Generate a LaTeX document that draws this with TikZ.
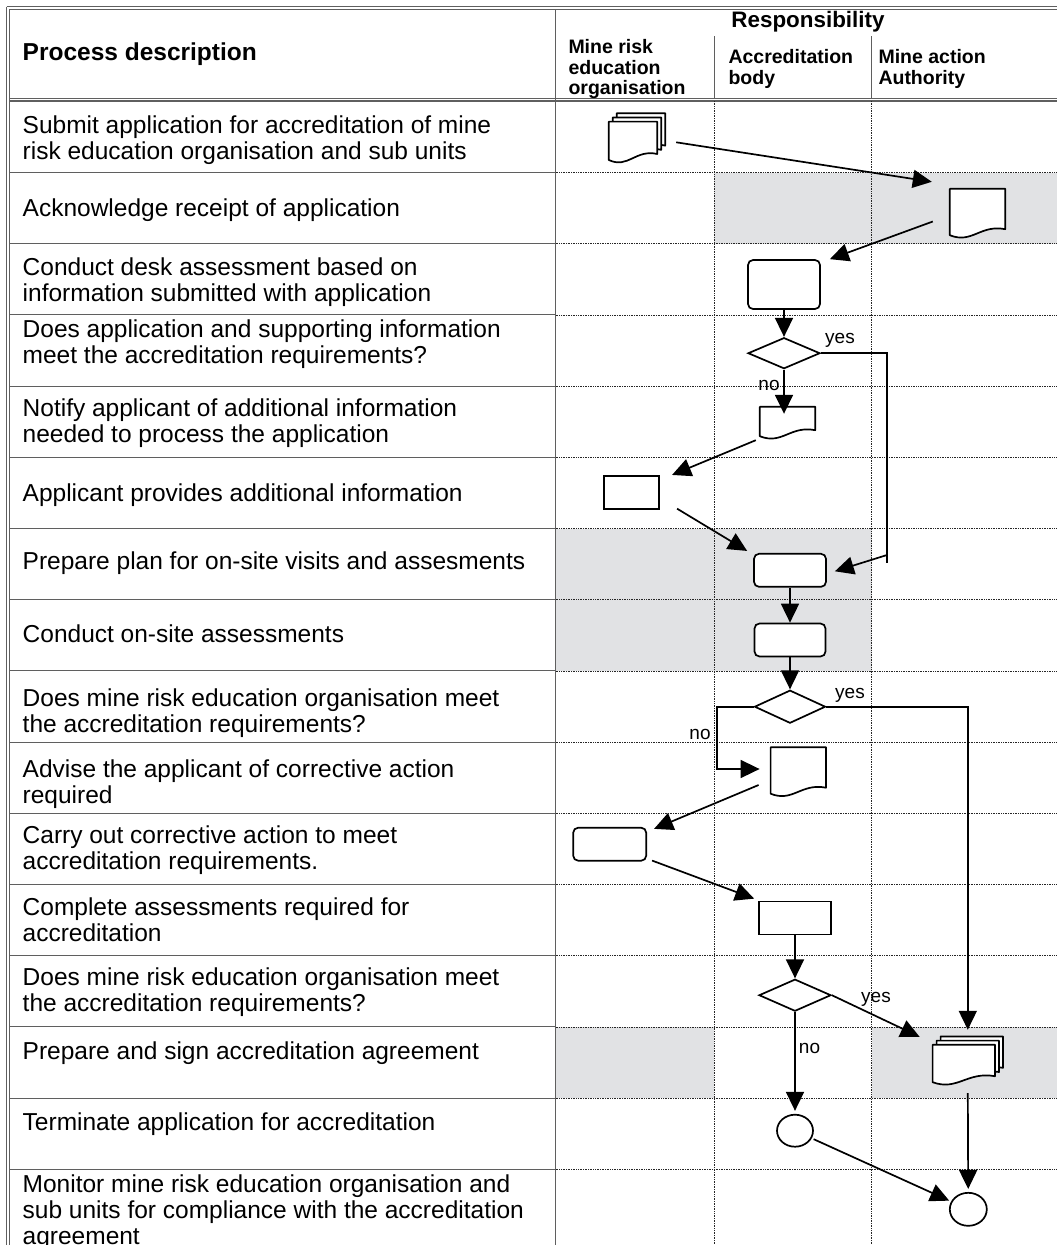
\documentclass[tikz,border=0pt]{standalone}
\usepackage{fontspec}
\setmainfont{Liberation Sans}
\usetikzlibrary{arrows.meta,positioning,shapes.geometric,calc}

\definecolor{rowshade}{RGB}{225,226,228}
\definecolor{rulegrey}{RGB}{95,95,95}

\begin{document}
\begin{tikzpicture}[
  x=1pt, y=-1pt,
  font=\fontsize{24.5}{26}\selectfont,
  desc/.style={anchor=north west, inner sep=0pt, align=left,
    execute at begin node=\strut},
  colhead/.style={anchor=north west, inner sep=0pt, align=left,
    font=\fontsize{19.5}{20.5}\selectfont\bfseries, execute at begin node=\strut},
  rulebar/.style={draw=rulegrey, line width=1.1pt},
  dotrule/.style={draw=black!85, line width=0.8pt, dash pattern=on 0.8pt off 0.9pt},
  proc/.style={draw, line width=1.7pt, fill=white, rounded corners=5pt,
    inner sep=0pt, minimum width=72pt, minimum height=33pt},
  rectbox/.style={proc, rounded corners=0pt},
  decision/.style={diamond, draw, line width=1.7pt, fill=white, inner sep=0pt,
    minimum width=72pt, minimum height=32pt},
  stop/.style={ellipse, draw, line width=1.7pt, fill=white, inner sep=0pt,
    minimum width=36pt, minimum height=32pt},
  docbox/.style={inner sep=0pt, minimum width=55pt, minimum height=49pt},
  docline/.style={draw, line width=1.7pt, fill=white, line join=round},
  doc path/.style 2 args={insert path={
    ($(#1.north west)+(#2,-1.05*#2)$) -- ($(#1.north east)+(#2,-1.05*#2)$)
    -- ($(#1.south east)+(#2,-1.05*#2-9)$)
    .. controls ($(#1.south west)!0.55!(#1.south east)+(#2,-1.05*#2-14)$)
       and ($(#1.south west)!0.4!(#1.south east)+(#2,-1.05*#2+6)$)
    .. ($(#1.south west)+(#2,-1.05*#2-3)$) -- cycle}},
  arrow/.style={-{Triangle[length=19pt,width=18pt]}, line width=1.7pt},
  answer/.style={anchor=base, inner sep=0pt, font=\fontsize{19}{20}\selectfont}
]
\useasboundingbox (0,0) rectangle (1057,1245);

% shaded cells
\fill[rowshade] (714.3,172.5) rectangle (1057,244);
\fill[rowshade] (555.7,529) rectangle (871.7,671.3);
\fill[rowshade] (555.7,1027) rectangle (714.3,1098.1);
\fill[rowshade] (871.7,1027) rectangle (1057,1098.1);

% frame and header rules
\draw[rulebar] (6.7,6.7) -- (1057,6.7);
\draw[rulebar] (9.3,9.3) -- (1057,9.3);
\draw[rulebar] (6.7,6.7) -- (6.7,1245);
\draw[rulebar] (9.3,9.3) -- (9.3,1245);
\draw[rulebar] (9.3,98.3) -- (1057,98.3);
\draw[rulebar] (9.3,101) -- (1057,101);
\draw[rulebar] (555.7,9.3) -- (555.7,1245);
\draw[rulebar] (714.3,36) -- (714.3,98.3);
\draw[rulebar] (871.7,36) -- (871.7,98.3);
\draw[dotrule] (714.3,101) -- (714.3,1245);
\draw[dotrule] (871.7,101) -- (871.7,1245);

% row rules
\foreach \k in {1,...,15}{
  \draw[rulebar] (9.3,101.3+71.2*\k) -- (555.7,101.3+71.2*\k);
  \draw[dotrule] (555.7,101.3+71.2*\k) -- (1057,101.3+71.2*\k);
}

% headings
\node[anchor=base west, inner sep=0pt, font=\fontsize{24.5}{26}\selectfont\bfseries]
  (prochead) at (22.5,60.5) {Process description};
\node[inner sep=0pt, font=\fontsize{22.4}{24}\selectfont\bfseries]
  (resphead) at (808,22) {Responsibility};
\node[colhead] (mreo) at (568.3,39.6) {Mine risk\\education\\organisation};
\node[colhead] (acbody) at (728.3,49.6) {Accreditation\\body};
\node[colhead] (maa) at (878.3,49.6) {Mine action\\Authority};

% process descriptions
\node[desc] (d1) at (22.5,115.3) {Submit application for accreditation of mine\\risk education organisation and sub units};
\node[desc] (d2) at (22.5,198.3) {Acknowledge receipt of application};
\node[desc] (d3) at (22.5,257.3) {Conduct desk assessment based on\\information submitted with application};
\node[desc] (d4) at (22.5,319.3) {Does application and supporting information\\meet the accreditation requirements?};
\node[desc] (d5) at (22.5,398.3) {Notify applicant of additional information\\needed to process the application};
\node[desc] (d6) at (22.5,483.3) {Applicant provides additional information};
\node[desc] (d7) at (22.5,551.3) {Prepare plan for on-site visits and assesments};
\node[desc] (d8) at (22.5,624.3) {Conduct on-site assessments};
\node[desc] (d9) at (22.5,688.3) {Does mine risk education organisation meet\\the accreditation requirements?};
\node[desc] (d10) at (22.5,759.3) {Advise the applicant of corrective action\\required};
\node[desc] (d11) at (22.5,825.3) {Carry out corrective action to meet\\accreditation requirements.};
\node[desc] (d12) at (22.5,897.3) {Complete assessments required for\\accreditation};
\node[desc] (d13) at (22.5,967.3) {Does mine risk education organisation meet\\the accreditation requirements?};
\node[desc] (d14) at (22.5,1041.3) {Prepare and sign accreditation agreement};
\node[desc] (d15) at (22.5,1112.3) {Terminate application for accreditation};
\node[desc] (d16) at (22.5,1174.3) {Monitor mine risk education organisation and\\sub units for compliance with the accreditation\\agreement};

% flow symbols
\node[docbox, minimum width=48pt, minimum height=41pt] (sub1) at (633,142.3) {};
\node[docbox] (ack) at (977.5,213.5) {};
\node[proc, minimum height=49pt] (desk) at (784,284.5) {};
\node[decision, minimum height=31pt, below=27pt of desk] (dia1) {};
\node[docbox, minimum height=32pt] (notify) at (787.5,423) {};
\node[rectbox, minimum width=55pt] (provide) at (631.7,492.3) {};
\node[proc] (plan) at (790,570.3) {};
\node[proc, minimum width=71pt, below=35pt of plan] (onsite) {};
\node[decision, minimum width=71pt, minimum height=33pt, below=32pt of onsite] (dia2) {};
\node[docbox] (advise) at (798.3,772) {};
\node[proc, minimum width=73pt] (carry) at (609.7,844.2) {};
\node[rectbox] (complete) at (795,918) {};
\node[decision, below=43pt of complete] (dia3) {};
\node[docbox, minimum width=62pt, minimum height=40pt] (agree) at (963.8,1065) {};
\node[stop] (term) at (795,1130.7) {};
\node[stop, minimum width=37pt, minimum height=33pt] (monitor) at (968.3,1209.3) {};

\foreach \n in {ack,notify,advise}
  \draw[docline, doc path={\n}{0}];
\foreach \n in {sub1,agree}
  \foreach \d in {8,4,0}
    \draw[docline, doc path={\n}{\d}];

\coordinate (yes1) at (887,563);
\coordinate (no2) at (717.3,769);

% connectors
\draw[arrow] ($(sub1.east)+(19,0)$) -- ($(ack.north west)+(-18,-7)$);
\draw[arrow] ($(ack.west)+(-17,8)$) -- ($(desk.north east)+(9,0)$);
\draw[arrow] (desk) -- (dia1);
\draw[arrow] (dia1) -- ($(dia1.south |- notify.north)+(0,7)$);
\draw[line width=1.7pt] (dia1.east) -| (yes1);
\draw[arrow] ($(yes1)+(0,-8)$) -- ($(plan.east)+(8,1)$);
\draw[arrow] ($(notify.south west)+(-4,1)$) -- ($(provide.north east)+(12,0)$);
\draw[arrow] ($(provide.south east)+(17,-1)$) -- ($(plan.north west)+(-6,-2)$);
\draw[arrow] (plan) -- (onsite);
\draw[arrow] (onsite) -- (dia2);
\draw[arrow] (dia2.east) -| ($(agree.north)+(4,-15)$);
\draw[arrow] (dia2.west) -| (no2) -- ($(advise.west)+(-11,-3)$);
\draw[arrow] ($(advise.west)+(-12,13)$) -- ($(carry.north east)+(7,2)$);
\draw[arrow] ($(carry.south east)+(5,-1)$) -- ($(complete.north west)+(-4,-2)$);
\draw[arrow] (complete) -- (dia3);
\draw[arrow] (dia3.east) -- ($(agree.north west)+(-13,-8)$);
\draw[arrow, shorten >=3pt] (dia3) -- (term);
\draw[arrow, shorten <=2pt, shorten >=2pt] (term) -- (monitor);
\draw[arrow, shorten >=3pt] ($(agree.south)+(4,8)$) -- (monitor);

% answers
\node[answer] (yes1l) at (840,343) {yes};
\node[answer] (no1l) at (769,390) {no};
\node[answer] (yes2l) at (850,698) {yes};
\node[answer] (no2l) at (700,739) {no};
\node[answer] (yes3l) at (876,1002.5) {yes};
\node[answer] (no3l) at (809.5,1053) {no};

\end{tikzpicture}
\end{document}
